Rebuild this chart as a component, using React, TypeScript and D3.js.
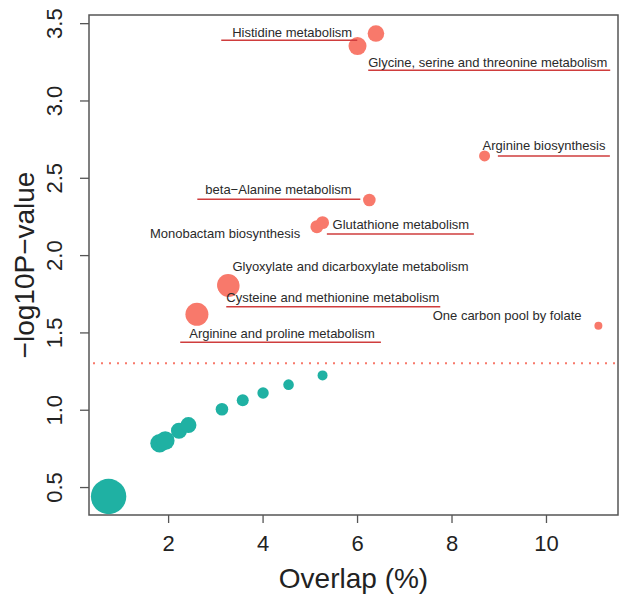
import React, { useRef, useEffect } from 'react'
import { select, scaleLinear, scaleSqrt, axisLeft, axisBottom, extent } from 'd3'

// pathway data
const pathways = [
  'Histidine metabolism',
  'Glycine, serine and threonine metabolism',
  'Arginine biosynthesis',
  'beta\u2212Alanine metabolism',
  'Monobactam biosynthesis',
  'Glutathione metabolism',
  'Glyoxylate and dicarboxylate metabolism',
  'Cysteine and methionine metabolism',
  'Arginine and proline metabolism',
  'One carbon pool by folate',
  'p11', 'p12', 'p13', 'p14', 'p15', 'p16', 'p17', 'p18', 'p19', 'p20',
]
const overlap = [6.40, 6.01, 8.70, 6.26, 5.15, 5.27, 3.27, 3.28, 2.61, 11.11,
  0.74, 1.82, 1.94, 2.23, 2.43, 3.14, 3.58, 4.01, 4.55, 5.27]
const logP = [3.433, 3.352, 2.641, 2.356, 2.184, 2.21, 1.807, 1.80, 1.617, 1.543,
  0.439, 0.783, 0.80, 0.864, 0.901, 1.003, 1.061, 1.108, 1.162, 1.222]
const impact = [0.213, 0.25, 0.093, 0.122, 0.13, 0.13, 0.373, 0.373, 0.408, 0.049,
  0.967, 0.267, 0.267, 0.198, 0.198, 0.122, 0.111, 0.1, 0.087, 0.077]

const xTicks = [2, 4, 6, 8, 10]
const yTicks = [0.5, 1.0, 1.5, 2.0, 2.5, 3.0, 3.5]
const cutoff = 1.3

// label placement (pixel offsets from the point), layout only
const labelLayout: { dx: number; dy: number; line?: [number, number, number] }[] = [
  { dx: -143.7, dy: 3.1, line: [-154.7, -18.7, 6.7] },
  { dx: 10.7, dy: 20.9, line: [10.7, 252.7, 24.3] },
  { dx: -2, dy: -6.1, line: [13.3, 125.3, 0] },
  { dx: -164, dy: -5.8, line: [-172, -9, -0.7] },
  { dx: -167, dy: 10.9 },
  { dx: 10, dy: 6.2, line: [4.3, 151.3, 11.3] },
  { dx: 4.3, dy: -13.8 },
  { dx: -2.3, dy: 15.9, line: [-2.3, 211.7, 20.7] },
  { dx: -7.7, dy: 23.9, line: [-16.7, 184, 28] },
  { dx: -165.7, dy: -5.8 },
]

const W = 630, H = 601
const left = 89, right = 618, top = 15, bottom = 515
const RED = '#f8796b', TEAL = '#1fb1a3', LINE = '#cf3d3d', AXIS = '#555'
const FONT = 'Liberation Sans, Arial, sans-serif'

function pad([a, b]: number[]) {
  const d = (b - a) * 0.04
  return [a - d, b + d]
}

export default function App() {
  const svgRef = useRef<SVGSVGElement>(null)

  useEffect(() => {
    const svg = select(svgRef.current)
    svg.selectAll('*').remove()

    const x = scaleLinear().domain(pad(extent(overlap) as number[])).range([left, right])
    const y = scaleLinear().domain(pad(extent(logP) as number[])).range([bottom, top])
    const r = scaleSqrt().domain([0, 0.967]).range([0, 17.7])

    const yAxis = axisLeft(y).tickValues(yTicks).tickFormat((d: any) => d.toFixed(1)).tickSize(9)
    const gy = svg.append('g').attr('transform', `translate(${left},0)`).call(yAxis)
    gy.select('.domain').remove()
    gy.selectAll('line').attr('stroke', AXIS).attr('stroke-width', 1.3)
    gy.selectAll('text')
      .attr('transform', 'rotate(-90)')
      .attr('x', 0).attr('y', -27).attr('dy', 0)
      .attr('text-anchor', 'middle')
      .style('font-size', '22px').style('font-family', FONT).attr('fill', '#222')

    const xAxis = axisBottom(x).tickValues(xTicks).tickSize(8)
    const gx = svg.append('g').attr('transform', `translate(0,${bottom})`).call(xAxis)
    gx.select('.domain').remove()
    gx.selectAll('line').attr('stroke', AXIS).attr('stroke-width', 1.3)
    gx.selectAll('text')
      .attr('y', 36).attr('dy', 0)
      .style('font-size', '22px').style('font-family', FONT).attr('fill', '#222')

    svg.append('rect')
      .attr('x', left).attr('y', top).attr('width', right - left).attr('height', bottom - top)
      .attr('fill', 'none').attr('stroke', AXIS).attr('stroke-width', 1.5)

    svg.append('line')
      .attr('x1', left + 4).attr('x2', right)
      .attr('y1', y(cutoff)).attr('y2', y(cutoff))
      .attr('stroke', RED).attr('stroke-width', 2).attr('stroke-dasharray', '2,6')

    const idx = pathways.map((_, i) => i)
    svg.append('g').selectAll('circle')
      .data(idx)
      .join('circle')
      .attr('cx', i => x(overlap[i]))
      .attr('cy', i => y(logP[i]))
      .attr('r', i => r(impact[i]))
      .attr('fill', i => (logP[i] > cutoff ? RED : TEAL))

    const labels = svg.append('g')
    labelLayout.forEach((l, i) => {
      const px = x(overlap[i]), py = y(logP[i])
      if (l.line) {
        labels.append('line')
          .attr('x1', px + l.line[0]).attr('x2', px + l.line[1])
          .attr('y1', py + l.line[2]).attr('y2', py + l.line[2])
          .attr('stroke', LINE).attr('stroke-width', 1.5)
      }
      labels.append('text')
        .attr('x', px + l.dx).attr('y', py + l.dy)
        .style('font-size', '13px').style('font-family', FONT)
        .attr('fill', '#2a2a2a')
        .text(pathways[i])
    })

    svg.append('text')
      .attr('x', (left + right) / 2).attr('y', 588)
      .attr('text-anchor', 'middle')
      .style('font-size', '28px').style('font-family', FONT)
      .attr('fill', '#222')
      .text('Overlap (%)')

    svg.append('text')
      .attr('transform', `translate(34,${(top + bottom) / 2}) rotate(-90)`)
      .attr('text-anchor', 'middle')
      .style('font-size', '28px').style('font-family', FONT)
      .attr('fill', '#222')
      .text('\u2212log10P\u2212value')
  }, [])

  return (
    <svg ref={svgRef} width={W} height={H}
      style={{ position: 'absolute', left: 0, top: 0, background: '#fff' }} />
  )
}
